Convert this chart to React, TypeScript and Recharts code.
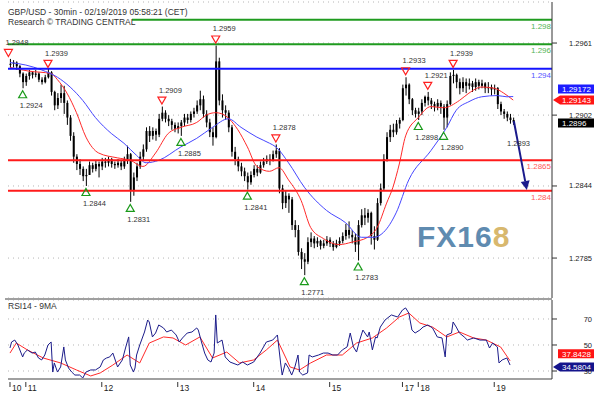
import React from 'react';
import {
  ComposedChart,
  Bar,
  Line,
  XAxis,
  YAxis,
  CartesianGrid,
  ReferenceLine,
  ReferenceDot,
} from 'recharts';

const FONT = '"Liberation Sans", Arial, sans-serif';

// hourly bars, bar 0 = Sunday 10 Feb evening
const closes = [
  1.2944, 1.2945, 1.2942, 1.2936, 1.2929, 1.2934, 1.2937, 1.2935, 1.2936, 1.2931,
  1.2929, 1.2933, 1.2937, 1.2921, 1.291, 1.2916, 1.292, 1.2912, 1.29, 1.2885,
  1.2868, 1.2862, 1.2858, 1.2852, 1.2853, 1.2861, 1.2858, 1.2862, 1.286, 1.2864,
  1.2863, 1.2866, 1.2862, 1.2861, 1.2863, 1.286, 1.2866, 1.287, 1.284, 1.2851,
  1.286, 1.2868, 1.2874, 1.2889, 1.2885, 1.2889, 1.2886, 1.2899, 1.2904, 1.2899,
  1.2897, 1.2894, 1.2891, 1.2893, 1.2896, 1.29, 1.2898, 1.2903, 1.2905, 1.291,
  1.2915, 1.2903, 1.2896, 1.2888, 1.2884, 1.2946, 1.2914, 1.2906, 1.2904, 1.2892,
  1.2872, 1.2866, 1.286, 1.2856, 1.2852, 1.2847, 1.2853, 1.2858, 1.2855, 1.2861,
  1.2864, 1.2866, 1.2865, 1.287, 1.2873, 1.2842, 1.283, 1.2836, 1.2833, 1.2812,
  1.2808, 1.279, 1.2784, 1.2782, 1.2798, 1.2801, 1.2797, 1.2799, 1.2795, 1.2797,
  1.28, 1.2797, 1.2794, 1.2797, 1.2799, 1.2803, 1.2808, 1.2804, 1.2802, 1.2796,
  1.2812, 1.282, 1.2818, 1.2822, 1.2803, 1.28, 1.283, 1.2842, 1.2866, 1.2884,
  1.289, 1.2888, 1.2895, 1.2898, 1.2924, 1.2927, 1.2915, 1.2906, 1.2903, 1.2905,
  1.2912, 1.2917, 1.2914, 1.2911, 1.2909, 1.2912, 1.2909, 1.29, 1.2911, 1.2934,
  1.2935, 1.2929, 1.2924, 1.2929, 1.2926, 1.2928, 1.2925, 1.2929, 1.2926, 1.2928,
  1.2924, 1.2925, 1.2923, 1.2924, 1.2911, 1.2905, 1.2903, 1.29, 1.2898, 1.2896,
];
const highs = [
  1.2948, 1.2947, 1.2946, 1.2943, 1.2937, 1.2936, 1.2939, 1.2938, 1.2939, 1.2937,
  1.2933, 1.2935, 1.294, 1.2938, 1.2922, 1.292, 1.2927, 1.2926, 1.2914, 1.2902,
  1.2888, 1.287, 1.2866, 1.286, 1.2858, 1.2864, 1.2863, 1.2865, 1.2864, 1.2867,
  1.2867, 1.2868, 1.2867, 1.2864, 1.2866, 1.2865, 1.2868, 1.2877, 1.2871, 1.2855,
  1.2863, 1.2872, 1.2878, 1.2892, 1.2893, 1.2892, 1.2891, 1.2903, 1.2909, 1.2906,
  1.2902, 1.2899, 1.2896, 1.2896, 1.2898, 1.2903, 1.2903, 1.2905, 1.2908, 1.2914,
  1.2922, 1.2918, 1.2906, 1.2899, 1.2892, 1.2959, 1.2949, 1.2919, 1.291, 1.2906,
  1.2894, 1.2876, 1.2868, 1.2863, 1.2859, 1.2855, 1.2856, 1.2861, 1.2861, 1.2864,
  1.2867, 1.2869, 1.287, 1.2873, 1.2878, 1.2875, 1.2845, 1.284, 1.2838, 1.2835,
  1.2816, 1.2812, 1.2793, 1.2789, 1.2802, 1.2806, 1.2803, 1.2802, 1.28, 1.28,
  1.2803, 1.2802, 1.2799, 1.28, 1.2802, 1.2806, 1.2813, 1.2815, 1.2808, 1.2805,
  1.2816, 1.2825, 1.2826, 1.2825, 1.2823, 1.2811, 1.2834, 1.2846, 1.287, 1.2888,
  1.2894, 1.2895, 1.2898, 1.29, 1.2927, 1.2933, 1.2928, 1.2916, 1.2908, 1.2908,
  1.2915, 1.2918, 1.2921, 1.2916, 1.2913, 1.2915, 1.2914, 1.2911, 1.2914, 1.2937,
  1.2939, 1.2936, 1.2932, 1.2933, 1.2932, 1.2932, 1.293, 1.2932, 1.2931, 1.2931,
  1.2929, 1.2929, 1.2927, 1.2927, 1.2925, 1.2913, 1.2907, 1.2905, 1.2903, 1.29,
];
const lows = [
  1.294, 1.2941, 1.2939, 1.2933, 1.2924, 1.2926, 1.2931, 1.2932, 1.2933, 1.2929,
  1.2927, 1.2928, 1.2932, 1.2918, 1.2906, 1.2907, 1.2912, 1.2903, 1.2894, 1.2881,
  1.2863, 1.2857, 1.2853, 1.2848, 1.2844, 1.2853, 1.2855, 1.2856, 1.2851, 1.2857,
  1.2859, 1.286, 1.2859, 1.2858, 1.2859, 1.2857, 1.2858, 1.2862, 1.2831, 1.2836,
  1.2848, 1.2858, 1.2865, 1.2872, 1.288, 1.2882, 1.2881, 1.2884, 1.2897, 1.2896,
  1.2893, 1.289, 1.2888, 1.2887, 1.2885, 1.2893, 1.2895, 1.2896, 1.29, 1.2903,
  1.2906, 1.29, 1.2892, 1.2884, 1.2877, 1.2883, 1.291, 1.29, 1.2898, 1.2888,
  1.2868, 1.2861, 1.2856, 1.2852, 1.2848, 1.2841, 1.2845, 1.2851, 1.2852, 1.2854,
  1.2859, 1.2862, 1.2861, 1.2864, 1.2867, 1.2838, 1.2825, 1.2826, 1.2822, 1.2808,
  1.2802, 1.2787, 1.2776, 1.2771, 1.278, 1.2794, 1.2793, 1.2794, 1.2792, 1.2793,
  1.2795, 1.2794, 1.2791, 1.2793, 1.2795, 1.2797, 1.28, 1.2801, 1.2797, 1.279,
  1.2783, 1.281, 1.2812, 1.2814, 1.2796, 1.2792, 1.2799, 1.2828, 1.284, 1.2864,
  1.288, 1.2884, 1.2886, 1.2891, 1.2897, 1.2918, 1.2911, 1.2902, 1.29, 1.2898,
  1.2902, 1.2909, 1.291, 1.2907, 1.2905, 1.2906, 1.2903, 1.289, 1.2892, 1.291,
  1.2928, 1.2924, 1.2919, 1.2921, 1.292, 1.2923, 1.2921, 1.2922, 1.2923, 1.2924,
  1.292, 1.292, 1.2918, 1.2919, 1.2907, 1.2902, 1.2899, 1.2897, 1.2895, 1.2894,
];

// moving averages read at these bars
const redMaT = [0, 6, 13, 15, 18, 21, 24, 28, 34, 38, 42, 46, 50, 54, 59, 62, 65, 67, 72, 75, 78, 82, 85, 88, 92, 95, 99, 104, 108, 113, 116, 119, 121, 123, 125, 129, 133, 137, 142, 145, 149, 153, 156, 159];
const redMaV = [1.2941, 1.2938, 1.2936, 1.2931, 1.292, 1.2904, 1.2884, 1.2871, 1.2867, 1.2865, 1.286, 1.2871, 1.2887, 1.2892, 1.2896, 1.2902, 1.2904, 1.2903, 1.289, 1.2876, 1.286, 1.2856, 1.2859, 1.2849, 1.2832, 1.281, 1.2801, 1.2796, 1.2798, 1.2802, 1.281, 1.283, 1.2843, 1.2862, 1.2885, 1.29, 1.2909, 1.2908, 1.2914, 1.292, 1.2925, 1.2924, 1.292, 1.29143];
const blueMaT = [0, 5, 10, 15, 19, 23, 27, 32, 36, 40, 43, 47, 54, 59, 64, 69, 73, 78, 82, 84, 88, 93, 100, 106, 111, 115, 118, 122, 126, 133, 138, 141, 145, 149, 154, 157, 159];
const blueMaV = [1.2945, 1.2943, 1.2939, 1.2933, 1.2925, 1.2914, 1.29, 1.2887, 1.2879, 1.2869, 1.2863, 1.2865, 1.2876, 1.2883, 1.2892, 1.2899, 1.2892, 1.2884, 1.2879, 1.2876, 1.2863, 1.2843, 1.2824, 1.2814, 1.2802, 1.2802, 1.2806, 1.2822, 1.2849, 1.2873, 1.2892, 1.2906, 1.2913, 1.2917, 1.2918, 1.2917, 1.29172];

// RSI(14) and its 9 MA
const rsiT = [
  0, 0.5, 1.5, 2.5, 4, 4.5, 5.5, 7, 8, 9,
  10, 11, 12, 13, 13.5, 14, 15, 16, 17, 17.5,
  18.5, 19.5, 20.5, 22, 23, 24, 25.5, 27, 28.5, 29.5,
  30.5, 31.5, 32.5, 34, 35.5, 36.5, 37.5, 38, 39, 39.5,
  40, 41, 42.5, 43.5, 44, 45, 46, 47, 48.5, 49.5,
  51, 52.5, 53.5, 54.5, 56, 57.5, 59, 59.5, 60.5, 61.5,
  62.5, 63.5, 64.5, 65, 65.5, 67, 68, 69.5, 72, 73.5,
  75, 77, 79, 81, 83, 84.5, 85.5, 86, 87, 88,
  89, 90, 91, 91.5, 92.5, 94, 94.5, 95.5, 97.5, 99,
  100.5, 102, 103.5, 105, 106.5, 107.5, 108.5, 109.5, 110.5, 111.5,
  113, 113.5, 114.5, 115.5, 116, 117, 118.5, 120.5, 122.5, 124,
  125, 126, 127, 128, 129.5, 130.5, 132, 133.5, 135, 136.5,
  137.5, 138, 139.5, 140, 141, 142, 143.5, 144.5, 146.5, 148.5,
  150.5, 151.5, 152.5, 154, 154.5, 155.5, 157, 158,
];
const rsiV = [
  47.7, 52.3, 53.8, 50, 40.8, 43.8, 46.2, 43.8, 44.6, 40,
  38.5, 42.3, 50, 52.3, 29.2, 36.2, 29.2, 33.1, 48.5, 38.5,
  32.3, 29.2, 26.9, 26.9, 24.6, 29.2, 30.8, 30.8, 33.1, 38.5,
  40, 40.8, 43.8, 33.1, 38.5, 47.7, 56.2, 34.6, 29.2, 32.3,
  42.3, 50, 60, 69.2, 67.7, 56.2, 59.2, 65.4, 63.1, 60,
  61.5, 57.7, 52.3, 55.4, 59.2, 60, 63.1, 61.5, 52.3, 43.8,
  38.5, 36.9, 43.8, 73.1, 51.5, 53.8, 40.8, 36.9, 34.6, 36.9,
  34.6, 36.9, 43.8, 52.3, 53.8, 57.7, 36.2, 26.9, 36.2, 32.3,
  26.9, 33.1, 42.3, 29.2, 26.9, 28.5, 42.3, 40.8, 42.3, 43.8,
  43.8, 42.3, 42.3, 46.2, 48.5, 59.2, 48.5, 44.6, 53.8, 61.5,
  56.2, 60, 46.2, 56.2, 55.4, 63.8, 69.2, 73.1, 71.5, 76.9,
  78.5, 74.6, 61.5, 59.2, 61.5, 63.8, 65.4, 63.1, 56.2, 55.4,
  40.8, 57.7, 59.2, 67.7, 63.8, 59.2, 56.2, 53.8, 55.4, 53.8,
  53.8, 47.7, 51.5, 48.5, 36.2, 38.5, 40, 34.5804,
];
const rsiMaT = [0, 2, 5.5, 10.5, 16, 21, 25.5, 28.5, 32.5, 37, 41, 44, 48.5, 51.5, 55.5, 60, 64, 68.5, 72.5, 77, 81, 84.5, 88.5, 91.5, 95, 100, 105, 109.5, 114.5, 119, 123, 126, 129.5, 133.5, 138, 142, 146.5, 150.5, 155, 158];
const rsiMaV = [43.8, 51.5, 46.2, 40, 36.2, 30.8, 26.2, 28.5, 34.6, 42.3, 36.2, 51.5, 56.2, 55.4, 50, 56.2, 40, 44.6, 36.2, 38.5, 46.2, 53.8, 33.1, 30.8, 36.2, 42.3, 42.3, 51.5, 55.4, 63.1, 71.5, 74.6, 66.9, 63.8, 56.2, 60, 55.4, 53.8, 48.5, 37.8428];

const dayTicks = [0, 5, 29, 53, 77, 101, 124, 129, 153];
const dayLabels = ['10', '11', '12', '13', '14', '15', '17', '18', '19'];
const priceTicks = [1.2785, 1.2844, 1.2902, 1.2961];
const rsiTicks = [30, 50, 70];

const levels = [1.298, 1.296, 1.294, 1.2865, 1.284];
const levelLabels = ['1.298', '1.296', '1.294', '1.2865', '1.284'];
const levelColors = ['#1f9b1f', '#1f9b1f', '#1414ff', '#ff1a1a', '#ff1a1a'];
const levelTextColors = ['#55b455', '#55b455', '#5555ff', '#ff5a5a', '#ff5a5a'];

// swing highs / lows marked on the chart
const annT = [-0.5, 12, 4, 48, 65, 84, 54, 24, 38, 75, 93, 110, 125, 132, 140, 129, 137, 158];
const annP = [1.2948, 1.2939, 1.2924, 1.2909, 1.2959, 1.2878, 1.2885, 1.2844, 1.2831, 1.2841, 1.2771, 1.2783, 1.2933, 1.2921, 1.2939, 1.2898, 1.289, 1.2893];
const annKind = ['hi', 'hi', 'lo', 'hi', 'hi', 'hi', 'lo', 'lo', 'lo', 'lo', 'lo', 'lo', 'hi', 'hi', 'hi', 'lo', 'lo', 'note'];

const arrowT = [159.2, 163.3];
const arrowP = [1.28971, 1.28407];

const X_DOMAIN: [number, number] = [-0.63, 171.25];

const priceRows: any[] = closes.map((c, i) => ({
  t: i,
  range: [lows[i], highs[i]],
  open: i > 0 ? closes[i - 1] : c,
  close: c,
}));
redMaT.forEach((t, k) => { priceRows[t].maRed = redMaV[k]; });
blueMaT.forEach((t, k) => { priceRows[t].maBlue = blueMaV[k]; });

const rsiMap = new Map<number, any>();
rsiT.forEach((t, k) => rsiMap.set(t, { ...(rsiMap.get(t) || { t }), rsi: rsiV[k] }));
rsiMaT.forEach((t, k) => rsiMap.set(t, { ...(rsiMap.get(t) || { t }), ma: rsiMaV[k] }));
const rsiRows = [...rsiMap.values()].sort((a, b) => a.t - b.t);

const Candle = (props: any) => {
  const { x, y, width, height, payload } = props;
  if (!payload || height == null) return null;
  const [lo, hi] = payload.range;
  const py = (v: number) => y + ((hi - v) / (hi - lo)) * height;
  const cx = x + width / 2;
  const top = Math.min(py(payload.open), py(payload.close));
  const bot = Math.max(py(payload.open), py(payload.close));
  return (
    <g>
      <line x1={cx} x2={cx} y1={y} y2={y + height} stroke="#000" strokeWidth={1} />
      <rect x={x} y={top} width={width} height={Math.max(1, bot - top)} fill="#000" />
    </g>
  );
};

const PriceTick = (props: any) => (
  <text x={props.x + 33} y={props.y + 2.5} textAnchor="end" fontSize={7.5} fontFamily={FONT} fill="#222">
    {Number(props.payload.value).toFixed(4)}
  </text>
);

const RsiTick = (props: any) => (
  <text x={props.x + 33} y={props.y + 3} textAnchor="end" fontSize={7.5} fontFamily={FONT} fill="#222">
    {props.payload.value}
  </text>
);

const DayTick = (props: any) => {
  const { x, y, payload } = props;
  const k = dayTicks.indexOf(payload.value);
  return (
    <g>
      <line x1={x} x2={x} y1={y} y2={y + 5} stroke="#333" />
      <text x={x + 2} y={y + 9} fontSize={8.5} fontFamily={FONT} fill="#222">{dayLabels[k]}</text>
    </g>
  );
};

const levelLabel = (text: string, color: string) => (props: any) => {
  const vb = props.viewBox;
  return (
    <text x={vb.x + vb.width - 1} y={vb.y + 9} textAnchor="end" fontSize={8} fontFamily={FONT} fill={color}>
      {text}
    </text>
  );
};

const tagLabel = (text: string, bg: string, dy: number, pointer: boolean) => (props: any) => {
  const vb = props.viewBox;
  const x0 = vb.x + vb.width;
  const cy = vb.y + dy;
  const h = 9;
  const left = x0 + 6;
  const right = x0 + 42;
  const d = pointer
    ? `M${x0 + 1},${cy} L${left + 2},${cy - h / 2} L${right},${cy - h / 2} L${right},${cy + h / 2} L${left + 2},${cy + h / 2} Z`
    : `M${left},${cy - h / 2} L${right},${cy - h / 2} L${right},${cy + h / 2} L${left},${cy + h / 2} Z`;
  return (
    <g>
      <path d={d} fill={bg} />
      <text x={x0 + 10} y={cy + 3} fontSize={8} fontFamily={FONT} fill="#fff">{text}</text>
    </g>
  );
};

const marker = (kind: string, text: string) => (props: any) => {
  const { cx, cy } = props;
  const hi = kind === 'hi';
  const ty = hi ? cy - 6 : cy + 6;
  const pts = hi
    ? `${cx - 4},${ty - 3.5} ${cx + 4},${ty - 3.5} ${cx},${ty + 3.5}`
    : `${cx - 4},${ty + 3.5} ${cx + 4},${ty + 3.5} ${cx},${ty - 3.5}`;
  return (
    <g>
      {kind !== 'note' && (
        <polygon points={pts} fill="none" stroke={hi ? '#ff2020' : '#1a9a1a'} strokeWidth={1.2} />
      )}
      <text x={cx - 3} y={hi ? cy - 14 : cy + 20} fontSize={7.5} fontFamily={FONT} fill="#333">
        {text}
      </text>
    </g>
  );
};

const ArrowShape = (props: any) => {
  const { x1, y1, x2, y2 } = props;
  if (x1 == null) return null;
  const ang = Math.atan2(y2 - y1, x2 - x1);
  const L = 9;
  const W = 4.5;
  const bx = x2 - L * Math.cos(ang);
  const by = y2 - L * Math.sin(ang);
  const px = -Math.sin(ang) * W;
  const py = Math.cos(ang) * W;
  return (
    <g>
      <line x1={x1} y1={y1} x2={bx} y2={by} stroke="#1a1a8c" strokeWidth={2} />
      <polygon points={`${x2},${y2} ${bx + px},${by + py} ${bx - px},${by - py}`} fill="#1a1a8c" />
    </g>
  );
};

export default function App() {
  return (
    <div style={{ position: 'absolute', left: 0, top: 0, width: 596, height: 398, background: '#fff' }}>
      <div style={{ position: 'absolute', left: 0, top: 0 }}>
        <ComposedChart width={596} height={300} data={priceRows} margin={{ top: 2, right: 0, bottom: 2, left: 8 }}>
          <CartesianGrid vertical={false} stroke="#b5b5b5" strokeDasharray="1 4" />
          <XAxis type="number" dataKey="t" domain={X_DOMAIN} allowDataOverflow hide />
          <YAxis
            orientation="right"
            width={44}
            domain={[1.27523, 1.29946]}
            allowDataOverflow
            ticks={priceTicks}
            interval={0}
            tickSize={5}
            tickMargin={2}
            axisLine={{ stroke: '#333' }}
            tickLine={{ stroke: '#333' }}
            tick={<PriceTick />}
          />
          <Bar dataKey="range" barSize={2} shape={<Candle />} isAnimationActive={false} />
          <Line type="monotone" dataKey="maRed" stroke="#ff2a2a" strokeWidth={1} dot={false} connectNulls isAnimationActive={false} />
          <Line type="monotone" dataKey="maBlue" stroke="#4646ff" strokeWidth={1} dot={false} connectNulls isAnimationActive={false} />
          {levels.map((v, k) => (
            <ReferenceLine key={`lv${k}`} y={v} stroke={levelColors[k]} strokeWidth={2} label={levelLabel(levelLabels[k], levelTextColors[k])} />
          ))}
          <ReferenceLine y={1.29172} stroke="none" label={tagLabel('1.29172', '#1c1cff', -7.5, false)} />
          <ReferenceLine y={1.29143} stroke="none" label={tagLabel('1.29143', '#ff1414', 0, true)} />
          <ReferenceLine y={1.2896} stroke="none" label={tagLabel('1.2896', '#000', 0.5, false)} />
          <ReferenceLine
            segment={[{ x: arrowT[0], y: arrowP[0] }, { x: arrowT[1], y: arrowP[1] }]}
            shape={<ArrowShape />}
          />
          {annT.map((t, k) => (
            <ReferenceDot key={`an${k}`} x={t} y={annP[k]} r={0} shape={marker(annKind[k], annP[k].toFixed(4))} />
          ))}
        </ComposedChart>
      </div>
      <div style={{ position: 'absolute', left: 0, top: 299 }}>
        <ComposedChart width={596} height={99} data={rsiRows} margin={{ top: 1, right: 0, bottom: 0, left: 8 }}>
          <CartesianGrid vertical={false} stroke="#b5b5b5" strokeDasharray="1 4" />
          <XAxis
            type="number"
            dataKey="t"
            domain={X_DOMAIN}
            allowDataOverflow
            ticks={dayTicks}
            interval={0}
            height={19}
            tickSize={3}
            tickMargin={0}
            tickLine={false}
            axisLine={{ stroke: '#a0a0a0', strokeWidth: 2 }}
            tick={<DayTick />}
          />
          <YAxis
            orientation="right"
            width={44}
            domain={[23.85, 84.6]}
            allowDataOverflow
            ticks={rsiTicks}
            interval={0}
            tickSize={5}
            tickMargin={2}
            axisLine={{ stroke: '#333' }}
            tickLine={{ stroke: '#333' }}
            tick={<RsiTick />}
          />
          <Line type="linear" dataKey="ma" stroke="#ff2a2a" strokeWidth={1} dot={false} connectNulls isAnimationActive={false} />
          <Line type="linear" dataKey="rsi" stroke="#1c1c8a" strokeWidth={1} dot={false} connectNulls isAnimationActive={false} />
          <ReferenceLine y={37.8428} stroke="none" label={tagLabel('37.8428', '#ff1414', -7, false)} />
          <ReferenceLine y={34.5804} stroke="none" label={tagLabel('34.5804', '#14148c', 2, true)} />
        </ComposedChart>
      </div>
      <svg width={596} height={398} style={{ position: 'absolute', left: 0, top: 0, pointerEvents: 'none' }}>
        <rect x={5} y={298} width={547} height={2} fill="#a0a0a0" />
        <rect x={7} y={16} width={125} height={11} fill="#fff" />
        <text x={8} y={15} fontSize={8.5} fontFamily={FONT} fill="#333">
          GBP/USD - 30min - 02/19/2019 05:58:21 (CET)
        </text>
        <text x={8} y={25} fontSize={8.5} fontFamily={FONT} fill="#333">
          Research © TRADING CENTRAL
        </text>
        <text x={8} y={309} fontSize={8.5} fontFamily={FONT} fill="#333">RSI14 - 9MA</text>
        <text x={417} y={247} fontSize={30} fontWeight={700} fontFamily={FONT} letterSpacing={1}>
          <tspan fill="#5f8bb0">FX16</tspan>
          <tspan fill="#d8b86e">8</tspan>
        </text>
      </svg>
    </div>
  );
}
